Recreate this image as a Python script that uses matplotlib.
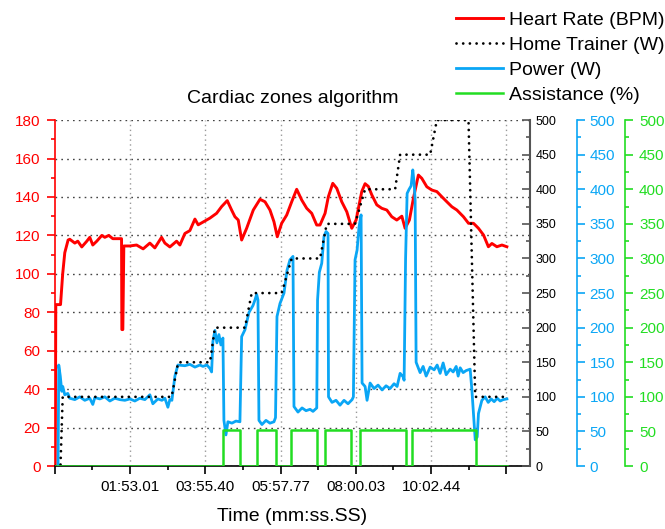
import matplotlib
matplotlib.use('Agg')
import matplotlib.pyplot as plt
from matplotlib.ticker import MultipleLocator, FixedLocator

plt.rcParams['font.family'] = ['Liberation Sans', 'DejaVu Sans']

# time in seconds
hr_t = [-8.2, -7.3, 0.4, 3.9, 7.3, 12.7, 15.4, 23.6, 28.4, 34.9,
        43.1, 47.9, 52.8, 59.3, 67.5, 72.3, 78.8, 85.3, 99.5, 100.0,
        101.6, 103.2, 113.0, 123.9, 134.6, 145.5, 153.6, 164.5, 169.9, 178.0,
        188.9, 194.3, 202.4, 210.5, 218.7, 224.0, 232.2, 243.1, 253.9, 262.1,
        271.2, 278.3, 283.7, 289.1, 294.6, 302.7, 313.5, 324.4, 332.5, 340.6,
        347.1, 352.5, 359.6, 367.8, 375.9, 384.0, 392.2, 400.3, 408.4, 416.5,
        421.9, 430.1, 435.4, 442.6, 449.1, 457.2, 465.4, 473.5, 480.5, 489.7,
        495.1, 500.4, 506.0, 514.1, 522.2, 530.4, 538.5, 546.6, 554.8, 560.1,
        567.1, 573.6, 581.7, 587.2, 595.4, 603.5, 611.7, 619.8, 627.9, 636.1,
        644.2, 654.9, 663.1, 671.2, 679.3, 687.5, 695.4, 701.1, 709.2, 717.4, 725.4]
hr_bpm = [0, 84, 84, 100, 111, 117.6, 118, 116, 117, 114,
          117, 119, 115, 117, 120, 119, 120, 118.3, 118.3, 71,
          71, 114.5, 114.5, 115, 113, 116, 113.5, 119, 116, 114,
          117, 115, 121, 122.5, 128.5, 125.5, 127, 129, 131.5, 135,
          138.1, 133.2, 129.7, 128, 117.6, 123.7, 133.2, 138.8, 137.5, 133.2,
          127.1, 119.3, 126.3, 130.6, 137.5, 144, 138.4, 134.1, 131.5, 125.4,
          125.4, 131.5, 140.1, 147.1, 144.5, 137.5, 132.3, 123.7, 128, 142.8,
          146.9, 145.5, 141.1, 135.9, 134.1, 133.2, 129.7, 128, 130, 123.7,
          128, 139.3, 151.4, 149.7, 145.3, 143.6, 142.8, 140.1, 137.5, 134.9,
          133.2, 129.7, 126.3, 126.3, 123.7, 120.2, 114.1, 115.8, 114.1, 115, 114.1]

trainer_t = [-8.2, 0.3, 3.9, 180.8, 191.5, 243.1, 251.2, 300.0, 310.9, 359.6,
             375.9, 421.9, 432.8, 478.8, 495.1, 543.9, 552.0, 600.8, 611.7, 663.1,
             674.0, 722.7]
trainer_w = [0, 0, 100, 100, 150, 150, 200, 200, 250, 250,
             300, 300, 350, 350, 400, 400, 450, 450, 500, 500,
             100, 100]

power_t = [-3.6, -2.5, 0.0, 2.4, 4.0, 7.3, 12.2, 15.4, 23.6, 31.7,
           39.8, 47.9, 52.8, 56.1, 64.2, 72.3, 80.5, 88.6, 96.7, 104.9,
           113.0, 121.1, 129.2, 137.4, 145.5, 150.4, 158.5, 165.0, 169.9, 174.8,
           178.0, 181.3, 186.2, 191.0, 202.4, 210.5, 218.7, 226.8, 231.7, 238.2,
           243.1, 245.8, 247.9, 251.2, 254.4, 257.7, 260.9, 264.2, 265.8, 269.1,
           272.3, 278.8, 285.3, 291.8, 294.6, 300.0, 306.5, 313.0, 316.2, 319.0,
           321.1, 322.7, 327.6, 334.1, 340.6, 347.1, 349.6, 352.0, 356.9, 363.4,
           368.3, 373.1, 378.0, 379.6, 386.1, 392.7, 399.2, 405.7, 410.5, 416.6,
           417.9, 420.8, 424.7, 428.4, 431.7, 434.9, 435.7, 441.4, 447.9, 454.4,
           460.9, 467.4, 474.0, 476.1, 478.8, 482.1, 485.3, 488.6, 490.2, 495.1,
           498.3, 503.2, 509.7, 516.2, 522.7, 529.2, 535.7, 542.2, 547.1, 552.0,
           556.9, 558.5, 560.9, 563.4, 566.6, 569.9, 572.6, 574.8, 576.4, 578.0,
           584.5, 589.4, 594.3, 600.8, 607.3, 612.2, 617.0, 621.9, 626.8, 633.3,
           638.2, 643.1, 646.3, 649.6, 654.4, 659.3, 665.8, 668.6, 671.5, 674.0,
           677.2, 679.3, 684.8, 690.2, 695.1, 700.0, 704.8, 709.7, 714.6, 719.5, 725.5]
power_w = [0, 146, 130, 108, 115, 103, 105, 98, 96, 100,
           95, 98, 89, 99, 97, 100, 94, 98, 96, 95,
           97, 94, 98, 96, 103, 90, 97, 95, 98, 85,
           96, 95, 130, 146, 145, 147, 143, 146, 144, 146,
           141, 136, 180, 196, 178, 190, 175, 185, 66, 45,
           64, 62, 65, 64, 187, 197, 222, 232, 240, 248,
           240, 66, 60, 66, 62, 64, 70, 216, 235, 250,
           283, 298, 303, 86, 78, 84, 80, 82, 79, 84,
           240, 280, 293, 332, 339, 336, 100, 92, 95, 88,
           95, 90, 96, 100, 298, 312, 346, 363, 120, 115,
           95, 120, 112, 117, 110, 116, 112, 119, 115, 134,
           129, 124, 300, 394, 400, 405, 428, 409, 384, 150,
           135, 144, 130, 143, 139, 146, 134, 149, 132, 140,
           136, 144, 130, 142, 135, 138, 140, 110, 71, 38,
           42, 76, 95, 100, 92, 97, 93, 98, 94, 96, 97]

assist_t = [-9.0, 264.7, 291.8, 320.0, 349.9, 374.8, 416.6, 430.5, 472.3, 487.0,
            561.8, 572.0, 675.1, 725.5]
assist_pct = [0, 52, 0, 52, 0, 52, 0, 52, 0, 52, 0, 52, 0, 0]

tick_pos = [-9.35, 113.01, 235.40, 357.77, 480.03, 602.44, 724.80]
tick_labels = ['', '01:53.01', '03:55.40', '05:57.77', '08:00.03', '10:02.44', '']

RED = '#FF0000'
BLUE = '#0AA6F5'
GREEN = '#22DD22'
DARK = '#555555'

fig = plt.figure(figsize=(6.65, 5.29), dpi=100)
ax = fig.add_axes([0.082, 0.119, 0.715, 0.654])
ax_p = ax.twinx()
ax_tr = ax.twinx()
ax_a = ax.twinx()

# gridlines (dotted)
ax.set_ylim(0, 180)
ax.set_xlim(-9.35, 763)
ax.yaxis.set_major_locator(MultipleLocator(20))
ax.yaxis.set_minor_locator(MultipleLocator(10))
for v in ax.get_yticks()[1:-1]:
    ax.axhline(v, color='#444444', lw=1, linestyle=(0, (1.2, 3.0)), zorder=0)
for v in tick_pos[1:]:
    ax.axvline(v, color='#999999', lw=1, linestyle=(0, (1.0, 2.5)), zorder=0)

l_hr, = ax.plot(hr_t, hr_bpm, color=RED, lw=2.1)
l_p, = ax_p.plot(power_t, power_w, color=BLUE, lw=2.0)
l_tr, = ax_tr.plot(trainer_t, trainer_w, color='black', lw=2.0,
                   linestyle=(0, (0.01, 2.4)), dash_capstyle='round')
l_a, = ax_a.step(assist_t, assist_pct, where='post', color=GREEN, lw=1.8)

for a in (ax_p, ax_tr, ax_a):
    a.set_ylim(0, 500)
    a.yaxis.set_major_locator(MultipleLocator(50))
    a.yaxis.set_minor_locator(MultipleLocator(25))
    a.spines['left'].set_visible(False)
    a.spines['bottom'].set_visible(False)
for a in (ax, ax_p, ax_tr, ax_a):
    a.spines['top'].set_visible(False)
ax.spines['right'].set_visible(False)

# left axis: heart rate
ax.spines['left'].set_color(RED)
ax.spines['left'].set_linewidth(1.2)
ax.tick_params(axis='y', which='both', colors=RED, direction='out', width=1.2, labelsize=11, pad=4)
ax.tick_params(axis='y', which='major', length=6)
ax.tick_params(axis='y', which='minor', length=3)

# bottom axis: time
ax.spines['bottom'].set_linewidth(1.2)
ax.set_xticks(tick_pos)
ax.set_xticklabels(tick_labels)
ax.xaxis.set_minor_locator(FixedLocator([(a + b) / 2 for a, b in zip(tick_pos[:-1], tick_pos[1:])]))
ax.tick_params(axis='x', which='both', direction='out', width=1.2, labelsize=11, pad=4)
ax.tick_params(axis='x', which='major', length=6)
ax.tick_params(axis='x', which='minor', length=3)
ax.set_xlabel('Time (mm:ss.SS)', fontsize=14, labelpad=10)

# home trainer axis
ax_tr.spines['right'].set_color(DARK)
ax_tr.spines['right'].set_linewidth(1.5)
ax_tr.tick_params(axis='y', which='both', direction='in', color=DARK, labelcolor='black',
                  width=1.2, labelsize=9, pad=4)
ax_tr.tick_params(axis='y', which='major', length=6)
ax_tr.tick_params(axis='y', which='minor', length=3)

# power axis
ax_p.spines['right'].set_position(('axes', 1.099))
ax_p.spines['right'].set_color(BLUE)
ax_p.spines['right'].set_linewidth(1.2)
ax_p.tick_params(axis='y', which='both', direction='out', colors=BLUE, width=1.2, labelsize=11, pad=3)
ax_p.tick_params(axis='y', which='major', length=6)
ax_p.tick_params(axis='y', which='minor', length=3)

# assistance axis
ax_a.spines['right'].set_position(('axes', 1.2))
ax_a.spines['right'].set_color(GREEN)
ax_a.spines['right'].set_linewidth(1.2)
ax_a.tick_params(axis='y', which='both', direction='out', colors=GREEN, width=1.2, labelsize=11, pad=4)
ax_a.tick_params(axis='y', which='major', length=6)
ax_a.tick_params(axis='y', which='minor', length=3)

ax.set_title('Cardiac zones algorithm', fontsize=14, pad=12)

fig.legend(handles=[l_hr, l_tr, l_p, l_a],
           labels=['Heart Rate (BPM)', 'Home Trainer (W)', 'Power (W)', 'Assistance (%)'],
           loc='upper left', bbox_to_anchor=(0.686, 0.979), frameon=False, fontsize=14,
           handlelength=2.4, handletextpad=0.3, labelspacing=0.38, borderpad=0, borderaxespad=0)

fig.savefig('out.png', dpi=100)
